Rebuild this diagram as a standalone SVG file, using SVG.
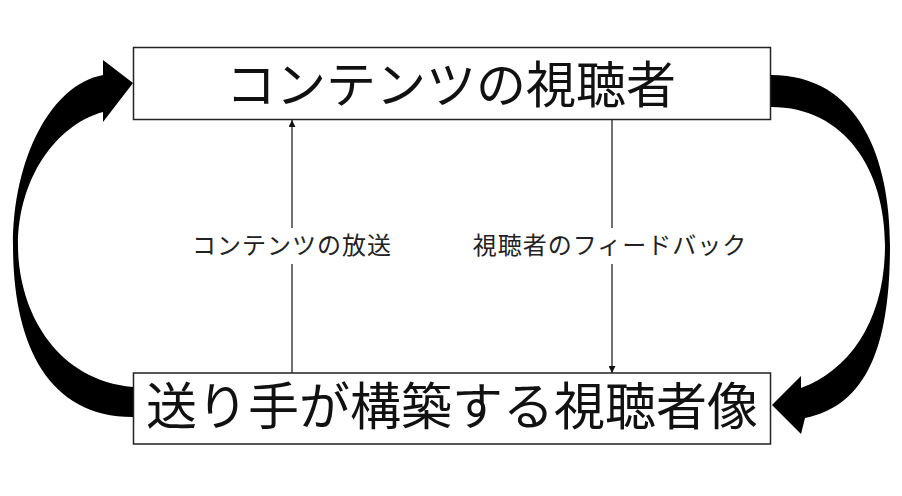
<svg xmlns="http://www.w3.org/2000/svg" width="902" height="496" viewBox="0 0 902 496">
<defs>
<style>
.box{fill:#fff;stroke:#222;stroke-width:1.5}
.big{font-family:"Noto Sans CJK JP","Noto Sans CJK SC",sans-serif;fill:#111;text-anchor:middle}
.lab{font-family:"Noto Sans CJK JP","Noto Sans CJK SC",sans-serif;font-size:24px;letter-spacing:1px;fill:#222;text-anchor:middle}
.ln{stroke:#111;stroke-width:1.2;fill:none}
.curve{fill:#000}
</style>
<marker id="ah" viewBox="0 0 10 10" refX="10" refY="5" markerWidth="7" markerHeight="7" markerUnits="userSpaceOnUse" orient="auto">
<path d="M0,0 L10,5 L0,10 Z" fill="#111"/>
</marker>
</defs>
<rect width="902" height="496" fill="#fff"/>
<g id="connectors">
<path class="curve" d="M133,417 C45,417 13,340 13,245 C13,160 50,85 103,75 L103,60 L133,83 L103,122 L103,112 C55,125 18,180 18,245 C18,310 55,380 133,387 Z"/>
<path class="curve" d="M771,75 C860,75 890,160 890,245 C890,340 870,405 805,418 L801,434 L772,405 L801,376 L801,388 C850,370 885,320 885,245 C885,170 845,107 771,107 Z"/>
<line class="ln" x1="292" y1="373" x2="292" y2="120" marker-end="url(#ah)"/>
<line class="ln" x1="612" y1="120" x2="612" y2="373" marker-end="url(#ah)"/>
<rect x="186" y="228" width="212" height="36" fill="#fff"/>
<rect x="466" y="228" width="288" height="36" fill="#fff"/>
<text class="lab" x="292" y="254">コンテンツの放送</text>
<text class="lab" x="610" y="254">視聴者のフィードバック</text>
</g>
<g id="node-viewer">
<rect class="box" x="133.5" y="47.5" width="637" height="72"/>
<text class="big" x="451" y="103" font-size="50">コンテンツの視聴者</text>
</g>
<g id="node-image">
<rect class="box" x="133.5" y="373" width="637" height="71"/>
<text class="big" x="452" y="425" font-size="51">送り手が構築する視聴者像</text>
</g>
</svg>
